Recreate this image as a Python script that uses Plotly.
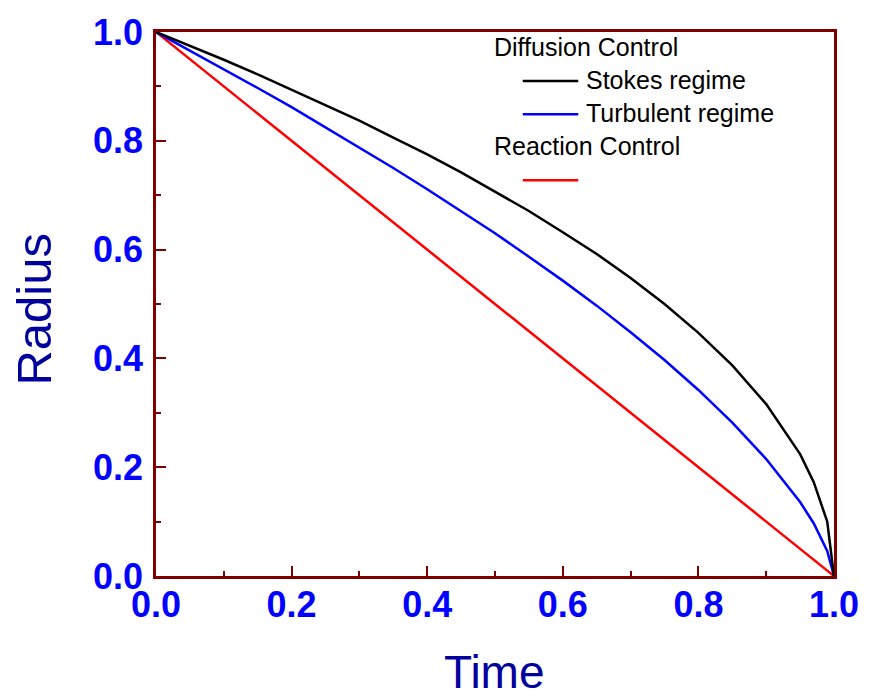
import plotly.graph_objects as go

# Data
time_vals = [0.0, 0.05, 0.1, 0.15, 0.2, 0.25, 0.3, 0.35, 0.4, 0.45, 0.5, 0.55,
             0.6, 0.65, 0.7, 0.75, 0.8, 0.85, 0.9, 0.95, 0.97, 0.99, 1.0]
stokes = [1.0, 0.975, 0.949, 0.922, 0.894, 0.866, 0.837, 0.806, 0.775, 0.742,
          0.707, 0.671, 0.632, 0.592, 0.548, 0.500, 0.447, 0.387, 0.316, 0.224,
          0.173, 0.100, 0.0]
turbulent = [1.0, 0.966, 0.932, 0.897, 0.862, 0.825, 0.788, 0.750, 0.711, 0.671,
             0.630, 0.587, 0.543, 0.497, 0.448, 0.397, 0.342, 0.282, 0.215, 0.136,
             0.097, 0.046, 0.0]
reaction_t = [0.0, 1.0]
reaction = [1.0, 0.0]

tick_vals = [0.0, 0.2, 0.4, 0.6, 0.8, 1.0]
tick_text = ["0.0", "0.2", "0.4", "0.6", "0.8", "1.0"]

FRAME = "#800000"
FAM = "Arial, Liberation Sans, sans-serif"
TICKFONT = dict(family=FAM, size=36, color="#0000FF", weight="bold")
TITLECOL = "#00009C"
LEGFONT = dict(family=FAM, size=25, color="black")

fig = go.Figure()
fig.add_trace(go.Scatter(x=reaction_t, y=reaction, mode="lines",
                         line=dict(color="#FF0000", width=2.5), showlegend=False))
fig.add_trace(go.Scatter(x=time_vals, y=turbulent, mode="lines",
                         line=dict(color="#0000FF", width=2.5), showlegend=False))
fig.add_trace(go.Scatter(x=time_vals, y=stokes, mode="lines",
                         line=dict(color="#000000", width=2.5), showlegend=False))

axis_common = dict(
    range=[0, 1], showgrid=False, zeroline=False,
    showline=True, linecolor=FRAME, linewidth=2.5, mirror=True,
    ticks="inside", ticklen=10, tickwidth=2, tickcolor=FRAME,
    tickvals=tick_vals, ticktext=tick_text, tickfont=TICKFONT,
    minor=dict(dtick=0.1, ticks="inside", ticklen=5, tickwidth=2, tickcolor=FRAME, showgrid=False),
)
fig.update_xaxes(**axis_common, ticklabelstandoff=-5)
fig.update_yaxes(**axis_common, ticklabelstandoff=3)

W, H = 871, 699
L, R, T, B = 156, 31, 27, 123
pw, ph = W - L - R, H - T - B


def px(xp):
    return (xp - L) / pw


def py(yp):
    return (H - B - yp) / ph


annotations = [
    dict(text="Time", x=px(497), y=py(673), xref="paper", yref="paper",
         showarrow=False, xanchor="center", yanchor="middle",
         font=dict(family=FAM, size=46, color=TITLECOL)),
    dict(text="Radius", x=px(33), y=py(307), xref="paper", yref="paper",
         showarrow=False, xanchor="center", yanchor="middle", textangle=-90,
         font=dict(family=FAM, size=49, color=TITLECOL)),
]
legend_rows = [
    ("Diffusion Control", 495, 42),
    ("Stokes regime", 588, 75),
    ("Turbulent regime", 588, 109),
    ("Reaction Control", 495, 142),
]
for txt, xp, yp in legend_rows:
    annotations.append(dict(text=txt, x=px(xp), y=py(yp), xref="paper", yref="paper",
                            showarrow=False, xanchor="left", yanchor="middle", font=LEGFONT))

shapes = []
for col, yp in [("#000000", 76.5), ("#0000FF", 110), ("#FF0000", 176.5)]:
    shapes.append(dict(type="line", xref="paper", yref="paper",
                       x0=px(526), x1=px(582), y0=py(yp), y1=py(yp),
                       line=dict(color=col, width=2.5)))

fig.update_layout(
    width=W, height=H,
    margin=dict(l=L, r=R, t=T, b=B),
    plot_bgcolor="white", paper_bgcolor="white",
    annotations=annotations, shapes=shapes,
    showlegend=False,
)

fig.write_html("out.html", config={"displayModeBar": False})

# remove default page margin so the figure sits at the window origin
with open("out.html", "r", encoding="utf-8") as f:
    html = f.read()
html = html.replace("<head>", "<head><style>html,body{margin:0;padding:0;overflow:hidden;}</style>", 1)
with open("out.html", "w", encoding="utf-8") as f:
    f.write(html)
